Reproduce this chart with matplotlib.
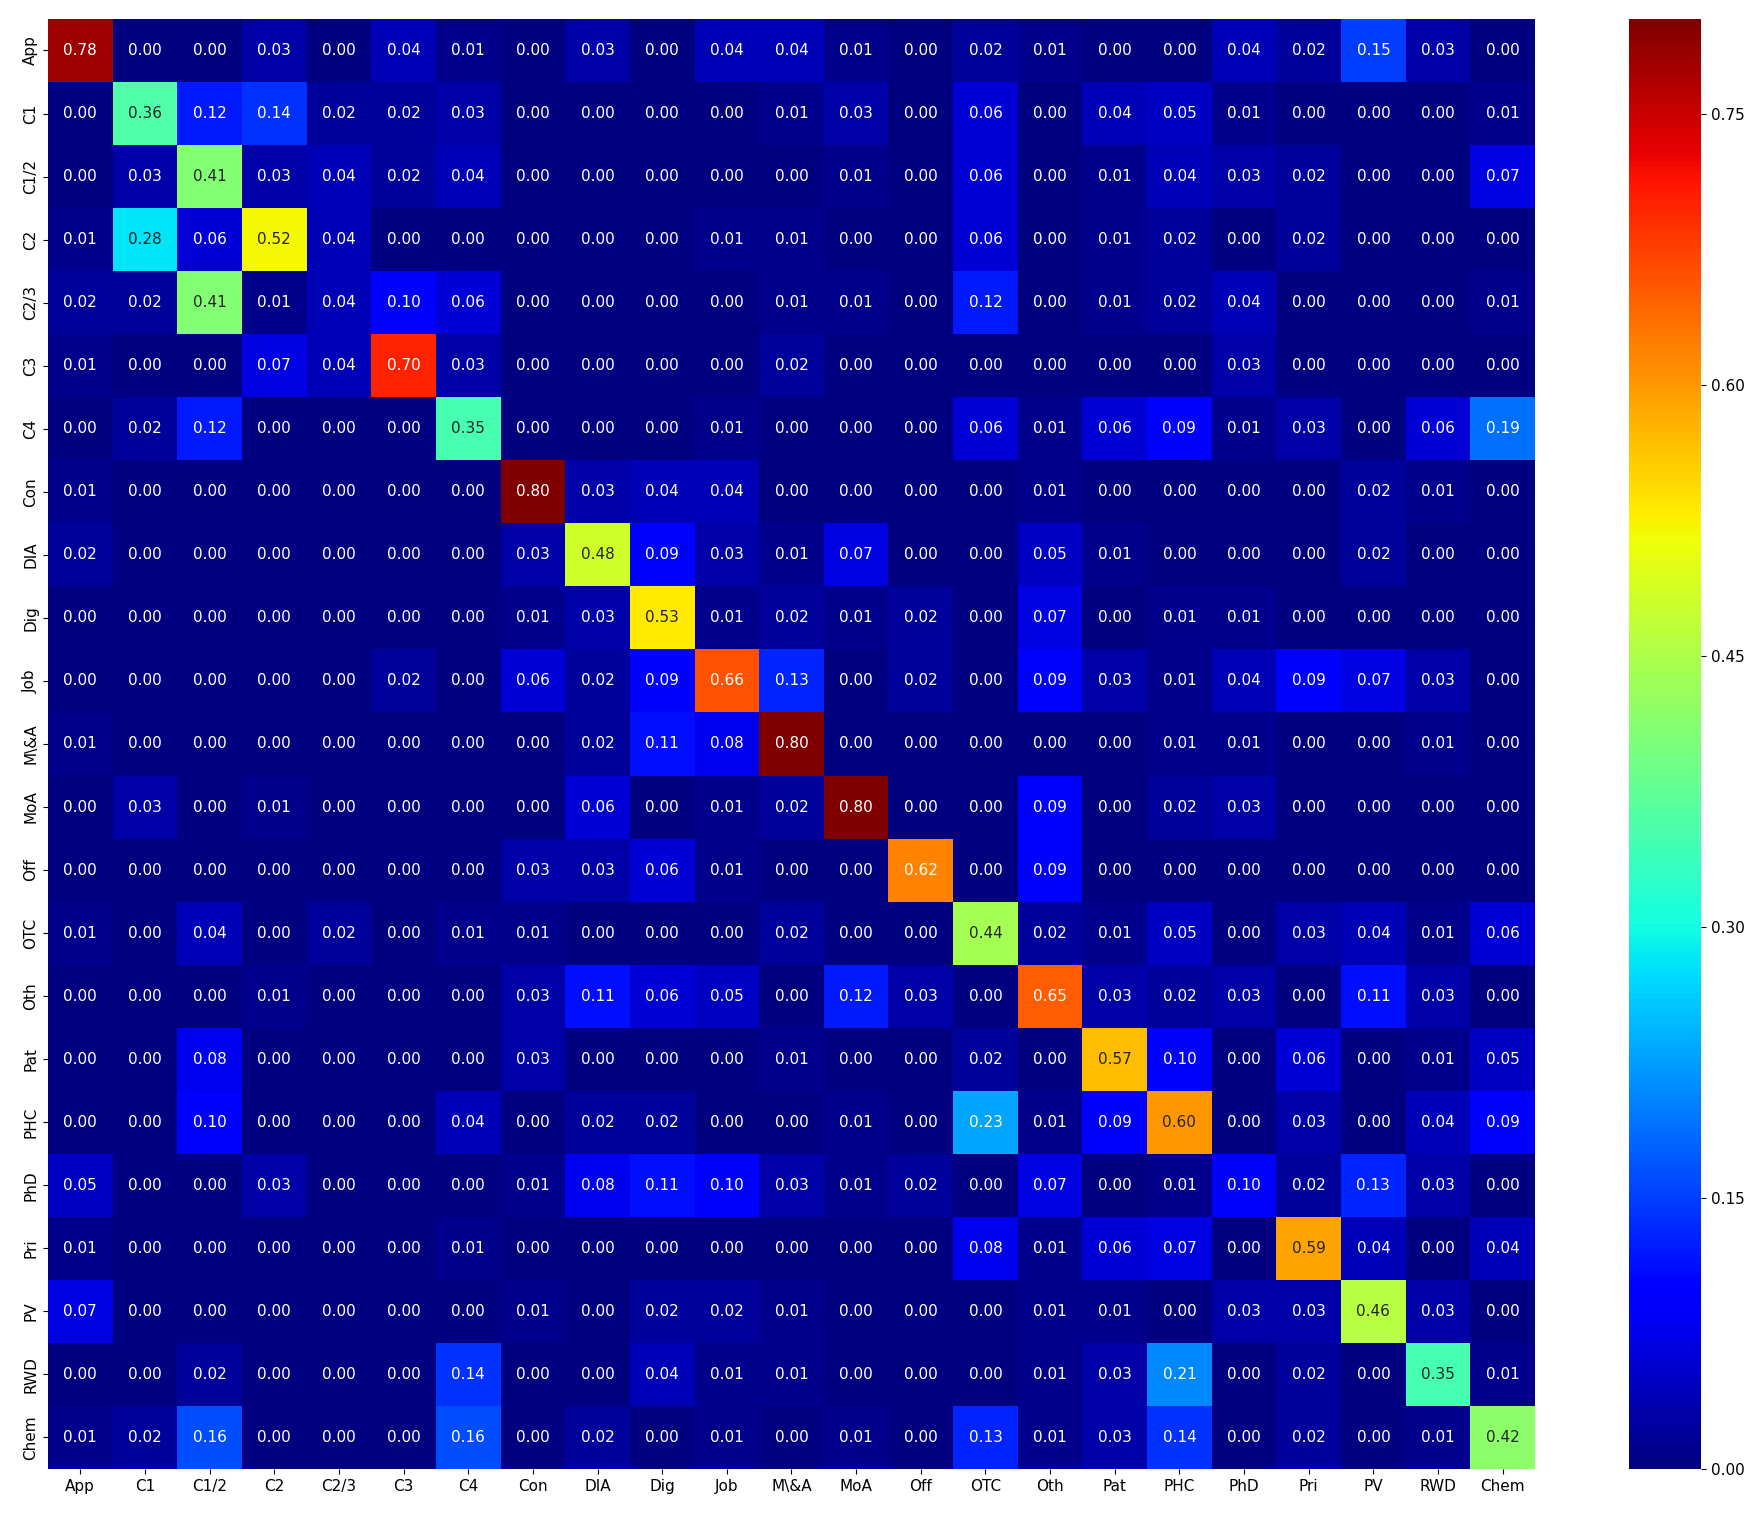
import numpy as np
import pandas as pd
import matplotlib
matplotlib.use('Agg')
import matplotlib.pyplot as plt
import seaborn as sns

labels = ['App', 'C1', 'C1/2', 'C2', 'C2/3', 'C3', 'C4', 'Con', 'DIA', 'Dig', 'Job', 'M\\&A',
          'MoA', 'Off', 'OTC', 'Oth', 'Pat', 'PHC', 'PhD', 'Pri', 'PV', 'RWD', 'Chem']

# one row per true class
r_app  = [0.78, 0.00, 0.00, 0.03, 0.00, 0.04, 0.01, 0.00, 0.03, 0.00, 0.04, 0.04, 0.01, 0.00, 0.02, 0.01, 0.00, 0.00, 0.04, 0.02, 0.15, 0.03, 0.00]
r_c1   = [0.00, 0.36, 0.12, 0.14, 0.02, 0.02, 0.03, 0.00, 0.00, 0.00, 0.00, 0.01, 0.03, 0.00, 0.06, 0.00, 0.04, 0.05, 0.01, 0.00, 0.00, 0.00, 0.01]
r_c12  = [0.00, 0.03, 0.41, 0.03, 0.04, 0.02, 0.04, 0.00, 0.00, 0.00, 0.00, 0.00, 0.01, 0.00, 0.06, 0.00, 0.01, 0.04, 0.03, 0.02, 0.00, 0.00, 0.07]
r_c2   = [0.01, 0.28, 0.06, 0.52, 0.04, 0.00, 0.00, 0.00, 0.00, 0.00, 0.01, 0.01, 0.00, 0.00, 0.06, 0.00, 0.01, 0.02, 0.00, 0.02, 0.00, 0.00, 0.00]
r_c23  = [0.02, 0.02, 0.41, 0.01, 0.04, 0.10, 0.06, 0.00, 0.00, 0.00, 0.00, 0.01, 0.01, 0.00, 0.12, 0.00, 0.01, 0.02, 0.04, 0.00, 0.00, 0.00, 0.01]
r_c3   = [0.01, 0.00, 0.00, 0.07, 0.04, 0.70, 0.03, 0.00, 0.00, 0.00, 0.00, 0.02, 0.00, 0.00, 0.00, 0.00, 0.00, 0.00, 0.03, 0.00, 0.00, 0.00, 0.00]
r_c4   = [0.00, 0.02, 0.12, 0.00, 0.00, 0.00, 0.35, 0.00, 0.00, 0.00, 0.01, 0.00, 0.00, 0.00, 0.06, 0.01, 0.06, 0.09, 0.01, 0.03, 0.00, 0.06, 0.19]
r_con  = [0.01, 0.00, 0.00, 0.00, 0.00, 0.00, 0.00, 0.80, 0.03, 0.04, 0.04, 0.00, 0.00, 0.00, 0.00, 0.01, 0.00, 0.00, 0.00, 0.00, 0.02, 0.01, 0.00]
r_dia  = [0.02, 0.00, 0.00, 0.00, 0.00, 0.00, 0.00, 0.03, 0.48, 0.09, 0.03, 0.01, 0.07, 0.00, 0.00, 0.05, 0.01, 0.00, 0.00, 0.00, 0.02, 0.00, 0.00]
r_dig  = [0.00, 0.00, 0.00, 0.00, 0.00, 0.00, 0.00, 0.01, 0.03, 0.53, 0.01, 0.02, 0.01, 0.02, 0.00, 0.07, 0.00, 0.01, 0.01, 0.00, 0.00, 0.00, 0.00]
r_job  = [0.00, 0.00, 0.00, 0.00, 0.00, 0.02, 0.00, 0.06, 0.02, 0.09, 0.66, 0.13, 0.00, 0.02, 0.00, 0.09, 0.03, 0.01, 0.04, 0.09, 0.07, 0.03, 0.00]
r_ma   = [0.01, 0.00, 0.00, 0.00, 0.00, 0.00, 0.00, 0.00, 0.02, 0.11, 0.08, 0.80, 0.00, 0.00, 0.00, 0.00, 0.00, 0.01, 0.01, 0.00, 0.00, 0.01, 0.00]
r_moa  = [0.00, 0.03, 0.00, 0.01, 0.00, 0.00, 0.00, 0.00, 0.06, 0.00, 0.01, 0.02, 0.80, 0.00, 0.00, 0.09, 0.00, 0.02, 0.03, 0.00, 0.00, 0.00, 0.00]
r_off  = [0.00, 0.00, 0.00, 0.00, 0.00, 0.00, 0.00, 0.03, 0.03, 0.06, 0.01, 0.00, 0.00, 0.62, 0.00, 0.09, 0.00, 0.00, 0.00, 0.00, 0.00, 0.00, 0.00]
r_otc  = [0.01, 0.00, 0.04, 0.00, 0.02, 0.00, 0.01, 0.01, 0.00, 0.00, 0.00, 0.02, 0.00, 0.00, 0.44, 0.02, 0.01, 0.05, 0.00, 0.03, 0.04, 0.01, 0.06]
r_oth  = [0.00, 0.00, 0.00, 0.01, 0.00, 0.00, 0.00, 0.03, 0.11, 0.06, 0.05, 0.00, 0.12, 0.03, 0.00, 0.65, 0.03, 0.02, 0.03, 0.00, 0.11, 0.03, 0.00]
r_pat  = [0.00, 0.00, 0.08, 0.00, 0.00, 0.00, 0.00, 0.03, 0.00, 0.00, 0.00, 0.01, 0.00, 0.00, 0.02, 0.00, 0.57, 0.10, 0.00, 0.06, 0.00, 0.01, 0.05]
r_phc  = [0.00, 0.00, 0.10, 0.00, 0.00, 0.00, 0.04, 0.00, 0.02, 0.02, 0.00, 0.00, 0.01, 0.00, 0.23, 0.01, 0.09, 0.60, 0.00, 0.03, 0.00, 0.04, 0.09]
r_phd  = [0.05, 0.00, 0.00, 0.03, 0.00, 0.00, 0.00, 0.01, 0.08, 0.11, 0.10, 0.03, 0.01, 0.02, 0.00, 0.07, 0.00, 0.01, 0.10, 0.02, 0.13, 0.03, 0.00]
r_pri  = [0.01, 0.00, 0.00, 0.00, 0.00, 0.00, 0.01, 0.00, 0.00, 0.00, 0.00, 0.00, 0.00, 0.00, 0.08, 0.01, 0.06, 0.07, 0.00, 0.59, 0.04, 0.00, 0.04]
r_pv   = [0.07, 0.00, 0.00, 0.00, 0.00, 0.00, 0.00, 0.01, 0.00, 0.02, 0.02, 0.01, 0.00, 0.00, 0.00, 0.01, 0.01, 0.00, 0.03, 0.03, 0.46, 0.03, 0.00]
r_rwd  = [0.00, 0.00, 0.02, 0.00, 0.00, 0.00, 0.14, 0.00, 0.00, 0.04, 0.01, 0.01, 0.00, 0.00, 0.00, 0.01, 0.03, 0.21, 0.00, 0.02, 0.00, 0.35, 0.01]
r_chem = [0.01, 0.02, 0.16, 0.00, 0.00, 0.00, 0.16, 0.00, 0.02, 0.00, 0.01, 0.00, 0.01, 0.00, 0.13, 0.01, 0.03, 0.14, 0.00, 0.02, 0.00, 0.01, 0.42]

rows = [r_app, r_c1, r_c12, r_c2, r_c23, r_c3, r_c4, r_con, r_dia, r_dig, r_job, r_ma,
        r_moa, r_off, r_otc, r_oth, r_pat, r_phc, r_phd, r_pri, r_pv, r_rwd, r_chem]
cm = pd.DataFrame(np.array(rows), index=labels, columns=labels)

fig = plt.figure(figsize=(17.63, 15.28), dpi=100)
ax = fig.add_axes([0.0272, 0.0386, 0.8435, 0.9490])
cax = fig.add_axes([0.9240, 0.0386, 0.0408, 0.9490])

# colour scale tops out a hair above 0.80 (unrounded max)
sns.heatmap(cm, annot=True, fmt='.2f', cmap='jet', vmin=0, vmax=0.8026,
            ax=ax, cbar_ax=cax, annot_kws={'fontsize': 11})

cax.set_yticks([0.00, 0.15, 0.30, 0.45, 0.60, 0.75])
cax.tick_params(labelsize=11)
ax.tick_params(labelsize=11)

fig.savefig('out.png', dpi=100)
